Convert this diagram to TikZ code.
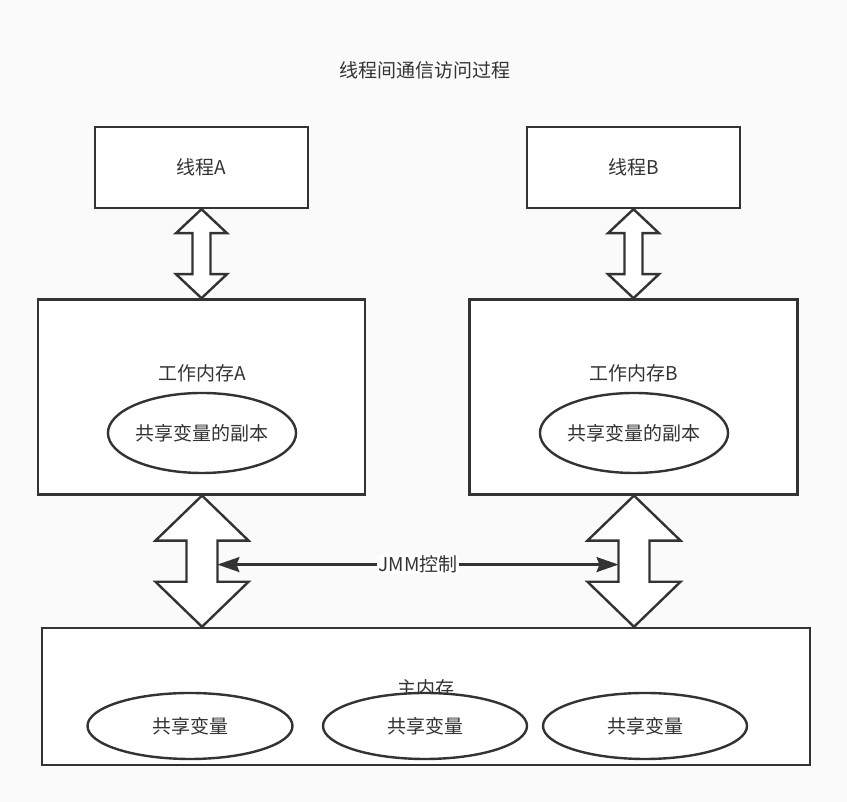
\documentclass[tikz,border=0pt]{standalone}
\usepackage{fontspec}
\setmainfont{Noto Sans CJK SC}
\usetikzlibrary{arrows.meta,shapes.geometric,positioning,calc}
\definecolor{linegray}{HTML}{333333}
\definecolor{bggray}{HTML}{FAFAFA}

% hollow double arrow: top tip, bottom tip, head half width, head length, shaft half width
\newcommand{\fatarrow}[5]{%
  \draw[fatarrow] (#1) -- ++(-#3,-#4) -- ++(#3-#5,0)
    -- ($(#2)+(-#5,#4)$) -- ++(#5-#3,0) -- (#2) -- ++(#3,#4)
    -- ++(#5-#3,0) -- ($(#1)+(#5,-#4)$) -- ++(#3-#5,0) -- cycle;}

\begin{document}
\begin{tikzpicture}[x=1pt,y=1pt,color=linegray,
    every node/.style={font=\fontsize{19}{22}\selectfont},
    box/.style={rectangle, draw, fill=white, line width=2.4pt},
    copyvar/.style={ellipse, draw, fill=white, line width=2.4pt, inner sep=0pt},
    fatarrow/.style={draw, fill=white, line width=2.4pt, line join=miter}]

    \fill[bggray] (0,0) rectangle (847,802);
    \useasboundingbox (0,0) rectangle (847,802);

    \node (title) at (425,732) {线程间通信访问过程};

    \node[box, minimum width=213, minimum height=81] (threadA) at (201.5,634.5) {线程A};
    \node[box, minimum width=213, minimum height=81] (threadB) at (633.5,634.5) {线程B};

    \node[box, minimum width=327, minimum height=195, below=89 of threadA] (memA) {};
    \node[box, minimum width=328, minimum height=195, below=89 of threadB] (memB) {};

    \node[copyvar, minimum width=183, minimum height=80] (copyA) at (202,369) {共享变量的副本};
    \node[above=6 of copyA] (memAname) {工作内存A};
    \node[copyvar, minimum width=183, minimum height=80] (copyB) at (634,369) {共享变量的副本};
    \node[above=6 of copyB] (memBname) {工作内存B};

    \node[box, minimum width=768, minimum height=137, text depth=18] (mainmem) at (426,105.5) {主内存};
    \node[copyvar, minimum width=205, minimum height=66] (var1) at (190,76) {共享变量};
    \node[copyvar, minimum width=204, minimum height=66] (var2) at (425,76) {共享变量};
    \node[copyvar, minimum width=204, minimum height=66] (var3) at (645,76) {共享变量};

    \fatarrow{threadA.south}{memA.north}{25.5}{24}{9}
    \fatarrow{threadB.south}{memB.north}{25.5}{24}{9}

    \coordinate (tipA) at (memA.south -| copyA.center);
    \coordinate (tipB) at (memB.south -| copyB.center);
    \fatarrow{tipA}{tipA |- mainmem.north}{46.5}{45}{15.5}
    \fatarrow{tipB}{tipB |- mainmem.north}{46.5}{45}{15.5}

    \coordinate (jmmL) at ($(tipA)+(15.5,-69)$);
    \coordinate (jmmR) at ($(tipB)+(-15.5,-69)$);
    \draw[<->, >={Stealth[length=22pt, width=15pt, inset=3pt]}, line width=2.4pt]
      (jmmL) -- node[fill=white, inner sep=1pt] (jmmlabel) {JMM控制} (jmmR);

\end{tikzpicture}
\end{document}
